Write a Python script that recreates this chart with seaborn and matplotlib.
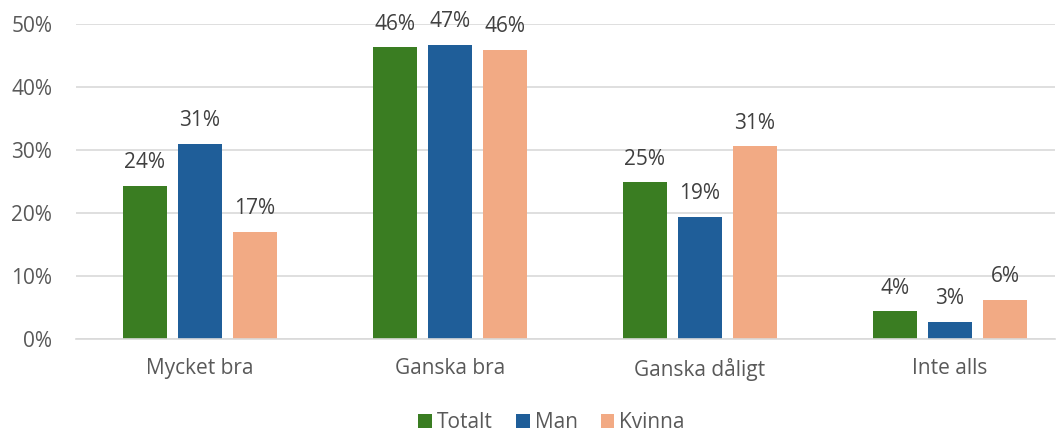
import numpy as np
import pandas as pd
import matplotlib.pyplot as plt
import seaborn as sns
from matplotlib.ticker import PercentFormatter

sns.set_style('white')
plt.rcParams['font.family'] = ['Open Sans', 'DejaVu Sans']

categories = ['Mycket bra', 'Ganska bra', 'Ganska dåligt', 'Inte alls']
groups = ['Totalt', 'Man', 'Kvinna']
totalt = [24.3, 46.3, 24.9, 4.4]
man = [31.0, 46.7, 19.4, 2.7]
kvinna = [17.0, 45.9, 30.6, 6.2]
labels = {'Totalt': ['24%', '46%', '25%', '4%'],
          'Man': ['31%', '47%', '19%', '3%'],
          'Kvinna': ['17%', '46%', '31%', '6%']}

colors = ['#3A7D22', '#1F5E99', '#F2AA84']
text_col = '#595959'
label_col = '#404040'

df = pd.DataFrame({
    'cat': categories * 3,
    'grp': np.repeat(groups, len(categories)),
    'val': totalt + man + kvinna,
})

fig = plt.figure(figsize=(10.61, 4.32), dpi=100)
ax = fig.add_axes([0.0716, 0.2153, 0.9227, 0.7291])

sns.barplot(data=df, x='cat', y='val', hue='grp', palette=colors,
            width=0.66, gap=0.2, ax=ax, legend=True, saturation=1,
            linewidth=0)

for cont, g in zip(ax.containers, groups):
    ax.bar_label(cont, labels=labels[g], padding=9, fontsize=15,
                 color=label_col, clip_on=False)

ax.set_ylim(0, 50)
ax.set_xlim(-0.496, 3.42)
ax.set_yticks(range(0, 51, 10))
ax.yaxis.set_major_formatter(PercentFormatter(decimals=0))
ax.grid(axis='y', color='#D9D9D9', linewidth=1.2)
ax.set_axisbelow(True)
for s in ['top', 'right', 'left']:
    ax.spines[s].set_visible(False)
ax.spines['bottom'].set_color('#D9D9D9')
ax.spines['bottom'].set_linewidth(1.2)
ax.tick_params(axis='both', length=0, labelsize=15, colors=text_col)
ax.tick_params(axis='x', pad=14)
ax.tick_params(axis='y', pad=17)
ax.set_xlabel('')
ax.set_ylabel('')

handles, lbls = ax.get_legend_handles_labels()
ax.legend_.remove()
fig.legend(handles, lbls, loc='center', bbox_to_anchor=(0.52, 9 / 432), ncol=3,
           frameon=False, fontsize=15, handlelength=0.65, handleheight=0.65,
           handletextpad=0.25, columnspacing=1.1, labelcolor=text_col)

plt.savefig('out.png', dpi=100)
